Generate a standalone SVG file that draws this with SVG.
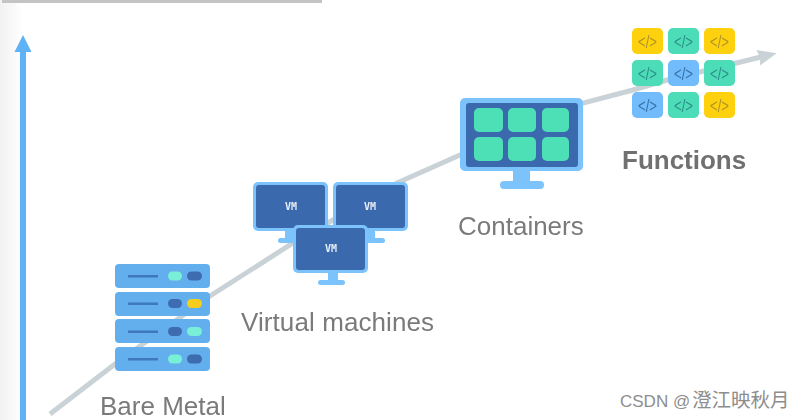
<svg xmlns="http://www.w3.org/2000/svg" width="802" height="420" viewBox="0 0 802 420">
<style>
.lbl{font-family:"Liberation Sans",Arial,sans-serif;font-size:26px;fill:#7a7a7a}
.fn{font-weight:700;fill:#6f6f6f}
.lb{fill:#7cc2fb}.dk{fill:#3c6cb0}.mon{fill:#3a69ae}.gn{fill:#4ee0b6}
.vm{font-family:"DejaVu Sans Mono","Liberation Mono",monospace;font-size:10px;font-weight:700;fill:#e8eef8;text-anchor:middle}
.srv{fill:#63afee}.srvl{fill:#3f78bd}.pd{fill:#3c6cb0}.pl{fill:#78efd6}.py{fill:#f6cd1c}
.y{fill:#fdd10d}.t{fill:#4edcb8}.b{fill:#72bcfb}
.c{font-family:"Liberation Sans",Arial,sans-serif;font-size:19px;text-anchor:middle}
.cy{fill:#ae9424}.ct{fill:#2b8f88}.cb{fill:#3570a8}
</style>
<defs>
<linearGradient id="fade" x1="0" x2="1" y1="0" y2="0"><stop offset="0" stop-color="#f1f1f1"/><stop offset="1" stop-color="#ffffff"/></linearGradient>
<filter id="soft" x="0" y="0" width="802" height="420" filterUnits="userSpaceOnUse"><feGaussianBlur stdDeviation="0.45"/></filter>
<marker id="ah" markerUnits="userSpaceOnUse" markerWidth="19" markerHeight="18" refX="7" refY="8" orient="auto"><path d="M0 0L19 8L0 16L2 8Z" fill="#c9d2d6"/></marker>
</defs>
<rect width="802" height="420" fill="#ffffff"/>
<rect x="0" y="0" width="22" height="420" fill="url(#fade)"/>
<rect x="2" y="0" width="320" height="3" fill="#c4c4c4"/>
<g filter="url(#soft)">
<g id="connectors">
<path d="M50 414L115 364L210 296L293 243L397 183L460 155L583 103L633 90L667 80L765 56" fill="none" stroke="#c9d2d6" stroke-width="5" marker-end="url(#ah)"/>
<path d="M23 420V50" fill="none" stroke="#5fb2f5" stroke-width="6"/>
<path d="M23 35L31.500 52H14.500Z" fill="#5fb2f5"/>
</g>
<g id="bare-metal">
<rect class="srv" x="115" y="264" width="95" height="24" rx="4"/><rect class="srvl" x="128" y="275" width="30" height="2.500"/><rect class="pl" x="168" y="271.500" width="14" height="9" rx="4.500"/><rect class="pd" x="187" y="271.500" width="15" height="9" rx="4.500"/>
<rect class="srv" x="115" y="292" width="95" height="24" rx="4"/><rect class="srvl" x="128" y="302.500" width="30" height="2.500"/><rect class="pd" x="168" y="299" width="14" height="9" rx="4.500"/><rect class="py" x="187" y="299" width="15" height="9" rx="4.500"/>
<rect class="srv" x="115" y="319" width="95" height="24" rx="4"/><rect class="srvl" x="128" y="330.500" width="30" height="2.500"/><rect class="pd" x="168" y="327" width="14" height="9" rx="4.500"/><rect class="pl" x="187" y="327" width="15" height="9" rx="4.500"/>
<rect class="srv" x="115" y="347" width="95" height="24" rx="4"/><rect class="srvl" x="128" y="358" width="30" height="2.500"/><rect class="pl" x="168" y="354.500" width="14" height="9" rx="4.500"/><rect class="pd" x="187" y="354.500" width="15" height="9" rx="4.500"/>
<text class="lbl" x="100" y="414.500">Bare Metal</text>
</g>
<g id="virtual-machines">
<g id="vm-1"><rect class="lb" x="285" y="229" width="10" height="10"/><rect class="lb" x="278" y="238" width="26" height="5" rx="2.500"/><rect class="lb" x="253" y="182" width="75" height="49" rx="5"/><rect class="mon" x="256" y="185" width="69" height="43" rx="3"/><text class="vm" x="291" y="210">VM</text></g>
<g id="vm-2"><rect class="lb" x="365" y="229" width="10" height="10"/><rect class="lb" x="358" y="238" width="27" height="5" rx="2.500"/><rect class="lb" x="333" y="182" width="75" height="49" rx="5"/><rect class="mon" x="336" y="185" width="69" height="43" rx="3"/><text class="vm" x="370" y="210">VM</text></g>
<g id="vm-3"><rect class="lb" x="328" y="271" width="10" height="10"/><rect class="lb" x="318" y="280" width="27" height="5" rx="2.500"/><rect class="lb" x="293" y="225" width="75" height="48" rx="5"/><rect class="mon" x="296" y="228" width="69" height="42" rx="3"/><text class="vm" x="331" y="252">VM</text></g>
<text class="lbl" x="241" y="331" textLength="193">Virtual machines</text>
</g>
<g id="containers">
<rect class="lb" x="513" y="169" width="17" height="14"/><rect class="lb" x="500" y="181" width="44" height="8" rx="4"/>
<rect class="lb" x="460" y="98" width="123" height="73" rx="5"/><rect class="mon" x="466" y="103" width="112" height="64" rx="3"/>
<rect class="gn" x="474" y="108" width="29" height="24" rx="5"/><rect class="gn" x="508" y="108" width="28" height="24" rx="5"/><rect class="gn" x="542" y="108" width="27" height="24" rx="5"/>
<rect class="gn" x="474" y="137" width="29" height="24" rx="5"/><rect class="gn" x="508" y="137" width="28" height="24" rx="5"/><rect class="gn" x="542" y="137" width="27" height="24" rx="5"/>
<text class="lbl" x="458" y="235">Containers</text>
</g>
<g id="functions">
<rect class="y" x="632" y="28" width="31" height="26" rx="5"/><text class="c cy" x="647.500" y="47.500" textLength="19" lengthAdjust="spacingAndGlyphs">&lt;/&gt;</text>
<rect class="t" x="668" y="28" width="31" height="26" rx="5"/><text class="c ct" x="683.500" y="47.500" textLength="19" lengthAdjust="spacingAndGlyphs">&lt;/&gt;</text>
<rect class="y" x="704" y="28" width="31" height="26" rx="5"/><text class="c cy" x="719.500" y="47.500" textLength="19" lengthAdjust="spacingAndGlyphs">&lt;/&gt;</text>
<rect class="t" x="632" y="60" width="31" height="26" rx="5"/><text class="c ct" x="647.500" y="79.500" textLength="19" lengthAdjust="spacingAndGlyphs">&lt;/&gt;</text>
<rect class="b" x="668" y="60" width="31" height="26" rx="5"/><text class="c cb" x="683.500" y="79.500" textLength="19" lengthAdjust="spacingAndGlyphs">&lt;/&gt;</text>
<rect class="t" x="704" y="60" width="31" height="26" rx="5"/><text class="c ct" x="719.500" y="79.500" textLength="19" lengthAdjust="spacingAndGlyphs">&lt;/&gt;</text>
<rect class="b" x="632" y="92" width="31" height="26" rx="5"/><text class="c cb" x="647.500" y="111.500" textLength="19" lengthAdjust="spacingAndGlyphs">&lt;/&gt;</text>
<rect class="t" x="668" y="92" width="31" height="26" rx="5"/><text class="c ct" x="683.500" y="111.500" textLength="19" lengthAdjust="spacingAndGlyphs">&lt;/&gt;</text>
<rect class="y" x="704" y="92" width="31" height="26" rx="5"/><text class="c cy" x="719.500" y="111.500" textLength="19" lengthAdjust="spacingAndGlyphs">&lt;/&gt;</text>
<text class="lbl fn" x="622" y="169">Functions</text>
</g>
</g>
<text x="620" y="407" font-family="'Liberation Sans','Noto Sans CJK SC',sans-serif" font-size="17" fill="#8d8d8d">CSDN @<tspan x="692" font-size="19.500">澄江映秋月</tspan></text>
</svg>
